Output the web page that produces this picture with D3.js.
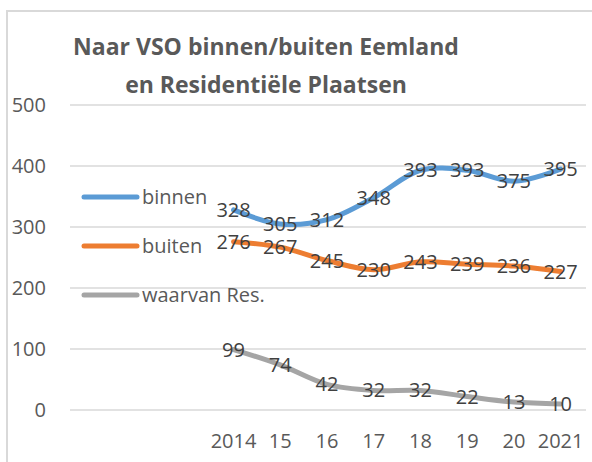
<!DOCTYPE html>
<html>
<head>
<meta charset="utf-8">
<script src="https://cdn.jsdelivr.net/npm/d3@7"></script>
<style>
    body { margin: 0; background: #fff; }
    svg { display: block; font-family: "Open Sans", sans-serif; }
</style>
</head>
<body>
<div id="chart"></div>
<script>
// chart data
var titleLines = ['Naar VSO binnen/buiten Eemland', 'en Residentiële Plaatsen'];
var years = ['2014', '15', '16', '17', '18', '19', '20', '2021'];
var emptySlots = 3;   // empty categories left of 2014 (room for the legend)
var binnen = [328, 305, 312, 348, 393, 393, 375, 395];
var buiten = [276, 267, 245, 230, 243, 239, 236, 227];
var waarvanRes = [99, 74, 42, 32, 32, 22, 13, 10];
var yTicks = [0, 100, 200, 300, 400, 500];

var series = [
    {name: 'binnen', values: binnen, color: '#5b9bd5', legendY: 197},
    {name: 'buiten', values: buiten, color: '#ed7d31', legendY: 246},
    {name: 'waarvan Res.', values: waarvanRes, color: '#a5a5a5', legendY: 295}
];

var width = 592, height = 462,
    plot = {left: 70, right: 584, top: 105, bottom: 410};

var svg = d3.select('#chart').append('svg')
    .attr('width', width)
    .attr('height', height);

// chart border (right and bottom edges fall outside the picture)
svg.append('rect')
    .attr('x', 7).attr('y', 11)
    .attr('width', 620).attr('height', 480)
    .attr('fill', 'none')
    .attr('stroke', '#d9d9d9')
    .attr('stroke-width', 2);

var x = d3.scaleBand()
    .domain(d3.range(emptySlots + years.length))
    .range([plot.left, plot.right]);
var xPos = function(i) { return x(i + emptySlots) + x.bandwidth() / 2; };

var y = d3.scaleLinear()
    .domain([0, 500])
    .range([plot.bottom, plot.top]);

// gridlines
svg.append('g').selectAll('line')
    .data(yTicks).enter()
    .append('line')
    .attr('x1', plot.left).attr('x2', plot.right + 2)
    .attr('y1', function(d) { return y(d); })
    .attr('y2', function(d) { return y(d); })
    .attr('stroke', '#d9d9d9')
    .attr('stroke-width', 1.5);

// y axis
var yAxis = svg.append('g')
    .attr('transform', 'translate(' + (plot.left - 24) + ',0)')
    .call(d3.axisLeft(y).tickValues(yTicks).tickSize(0).tickPadding(0));
yAxis.select('.domain').remove();
yAxis.selectAll('text')
    .attr('fill', '#595959')
    .style('font-size', '20px')
    .style('font-family', '"Open Sans", sans-serif');

// x axis labels
svg.append('g').selectAll('text')
    .data(years).enter()
    .append('text')
    .attr('x', function(d, i) { return xPos(i); })
    .attr('y', 448)
    .attr('text-anchor', 'middle')
    .attr('fill', '#595959')
    .style('font-size', '20px')
    .text(function(d) { return d; });

// lines
var line = d3.line()
    .x(function(d, i) { return xPos(i); })
    .y(function(d) { return y(d); })
    .curve(d3.curveCatmullRom.alpha(0.5));

series.forEach(function(s) {
    svg.append('path')
        .datum(s.values)
        .attr('d', line)
        .attr('fill', 'none')
        .attr('stroke', s.color)
        .attr('stroke-width', 5)
        .attr('stroke-linecap', 'round')
        .attr('stroke-linejoin', 'round');
});

// data labels, centred on the points
series.forEach(function(s) {
    svg.append('g').selectAll('text')
        .data(s.values).enter()
        .append('text')
        .attr('x', function(d, i) { return xPos(i); })
        .attr('y', function(d) { return y(d); })
        .attr('dy', '0.35em')
        .attr('text-anchor', 'middle')
        .attr('fill', '#404040')
        .style('font-size', '20px')
        .text(function(d) { return d; });
});

// legend
var legend = svg.append('g').selectAll('g')
    .data(series).enter()
    .append('g')
    .attr('transform', function(d) { return 'translate(84,' + d.legendY + ')'; });
legend.append('line')
    .attr('x1', 0).attr('x2', 53)
    .attr('stroke', function(d) { return d.color; })
    .attr('stroke-width', 5)
    .attr('stroke-linecap', 'round');
legend.append('text')
    .attr('x', 58)
    .attr('dy', '0.35em')
    .attr('fill', '#595959')
    .style('font-size', '20px')
    .text(function(d) { return d.name; });

// title
svg.append('g').selectAll('text')
    .data(titleLines).enter()
    .append('text')
    .attr('x', 266)
    .attr('y', function(d, i) { return 55 + i * 38; })
    .attr('text-anchor', 'middle')
    .attr('fill', '#595959')
    .style('font-size', '23px')
    .style('font-weight', 'bold')
    .text(function(d) { return d; });
</script>
</body>
</html>
